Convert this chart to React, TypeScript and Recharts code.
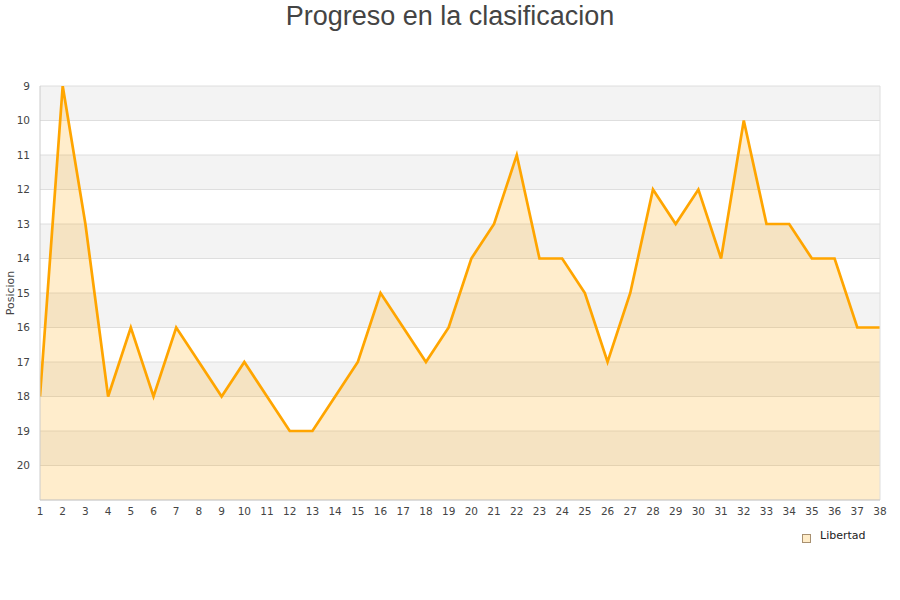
import React from 'react';
import { AreaChart, Area, XAxis, YAxis, CartesianGrid, ReferenceLine, Label } from 'recharts';

const title = 'Progreso en la clasificacion';
const seriesName = 'Libertad';
const yAxisTitle = 'Posicion';

const rounds = [
  1, 2, 3, 4, 5, 6, 7, 8, 9, 10, 11, 12, 13, 14, 15, 16, 17, 18, 19,
  20, 21, 22, 23, 24, 25, 26, 27, 28, 29, 30, 31, 32, 33, 34, 35, 36, 37, 38,
];
const positions = [
  18, 9, 13, 18, 16, 18, 16, 17, 18, 17, 18, 19, 19, 18, 17, 15, 16, 17, 16,
  14, 13, 11, 14, 14, 15, 17, 15, 12, 13, 12, 14, 10, 13, 13, 14, 14, 16, 16,
];
const yTicks = [9, 10, 11, 12, 13, 14, 15, 16, 17, 18, 19, 20, 21];

const data = rounds.map((r, i) => ({ round: r, pos: positions[i] }));

const tickStyle = { fontFamily: 'DejaVu Sans', fontSize: 10.5, fill: '#444' };

export default function App() {
  return (
    <div style={{ position: 'absolute', left: 0, top: 0, width: 900, height: 600, background: '#fff' }}>
      <div
        style={{
          position: 'absolute',
          left: 0,
          top: 3,
          width: 900,
          textAlign: 'center',
          fontFamily: '"Liberation Sans", Arial, sans-serif',
          fontSize: 27,
          lineHeight: '27px',
          color: '#444',
        }}
      >
        {title}
      </div>
      <AreaChart
        width={900}
        height={600}
        data={data}
        margin={{ top: 86, right: 20, left: 0, bottom: 70 }}
      >
        <CartesianGrid
          vertical={false}
          stroke="#dedede"
          horizontalFill={['#f3f3f3', '#ffffff']}
        />
        <XAxis
          dataKey="round"
          type="number"
          domain={[1, 38]}
          ticks={rounds}
          interval={0}
          tickLine={false}
          axisLine={{ stroke: '#ccc' }}
          tick={tickStyle}
          height={30}
          allowDataOverflow
        />
        <YAxis
          type="number"
          reversed
          domain={[9, 21]}
          ticks={yTicks}
          interval={0}
          tickFormatter={(v: number) => (v === 21 ? '' : String(v))}
          tickLine={false}
          axisLine={{ stroke: '#ccc' }}
          tick={tickStyle}
          tickMargin={4}
          width={40}
          allowDataOverflow
        >
          <Label
            value={yAxisTitle}
            angle={-90}
            position="insideLeft"
            offset={10}
            style={{ fontFamily: 'DejaVu Sans', fontSize: 11, fill: '#444', textAnchor: 'middle' }}
          />
        </YAxis>
        <ReferenceLine x={38} stroke="#dedede" />
        <Area
          type="linear"
          dataKey="pos"
          name={seriesName}
          stroke="#ffa500"
          strokeWidth={2.7}
          fill="#ffa500"
          fillOpacity={0.2}
          baseValue={21}
          dot={false}
          activeDot={false}
          isAnimationActive={false}
        />
      </AreaChart>
      <div
        style={{
          position: 'absolute',
          left: 802,
          top: 534,
          width: 7,
          height: 7,
          border: '1px solid #a89070',
          background: '#ffecc8',
        }}
      />
      <div
        style={{
          position: 'absolute',
          left: 820,
          top: 530,
          fontFamily: 'DejaVu Sans',
          fontSize: 11,
          lineHeight: '11px',
          color: '#222',
          whiteSpace: 'nowrap',
        }}
      >
        {seriesName}
      </div>
    </div>
  );
}
